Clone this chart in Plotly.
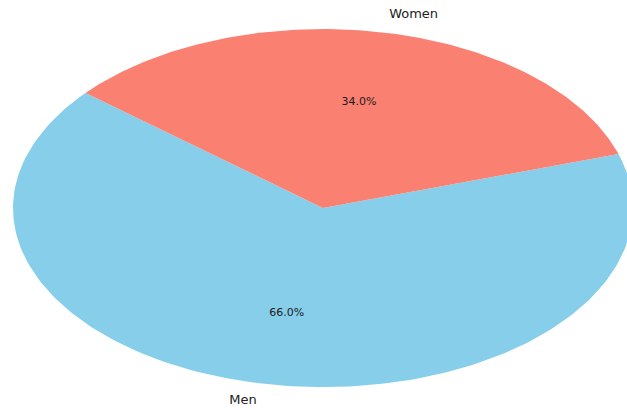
import numpy as np
import plotly.graph_objects as go

labels = ["Men", "Women"]
sizes = [66, 34]
colors = ["#87CEEB", "#FA8072"]
start_angle = 140  # degrees, counterclockwise like matplotlib

fig = go.Figure()
total = sum(sizes)
theta0 = start_angle
lab_x, lab_y, lab_t, lab_pos = [], [], [], []
pct_x, pct_y, pct_t = [], [], []
for lab, val, col in zip(labels, sizes, colors):
    span = 360.0 * val / total
    th = np.radians(np.linspace(theta0, theta0 + span, 200))
    xs = np.concatenate([[0], np.cos(th), [0]])
    ys = np.concatenate([[0], np.sin(th), [0]])
    fig.add_trace(go.Scatter(x=xs, y=ys, fill="toself", fillcolor=col,
                             mode="lines", line=dict(width=0, color=col),
                             hoverinfo="skip", showlegend=False))
    mid = np.radians(theta0 + span / 2)
    lx, ly = 1.1 * np.cos(mid), 1.1 * np.sin(mid)
    lab_x.append(lx); lab_y.append(ly); lab_t.append(lab)
    lab_pos.append("middle right" if lx > 0 else "middle left")
    pct_x.append(0.6 * np.cos(mid)); pct_y.append(0.6 * np.sin(mid))
    pct_t.append(f"{100.0 * val / total:.1f}%")
    theta0 += span

fig.add_trace(go.Scatter(x=lab_x, y=lab_y, mode="text", text=lab_t,
                         textposition=lab_pos,
                         textfont=dict(family="DejaVu Sans", size=13, color="#222"),
                         hoverinfo="skip", showlegend=False))
fig.add_trace(go.Scatter(x=pct_x, y=pct_y, mode="text", text=pct_t,
                         textposition="middle center",
                         textfont=dict(family="DejaVu Sans", size=11, color="#1a1a1a"),
                         hoverinfo="skip", showlegend=False))

fig.update_layout(
    width=627, height=410,
    margin=dict(l=0, r=0, t=0, b=0),
    paper_bgcolor="white", plot_bgcolor="white",
    xaxis=dict(range=[-1.042, 0.981], visible=False, fixedrange=True),
    yaxis=dict(range=[-1.128, 1.162], visible=False, fixedrange=True),
)
fig.write_html("out.html", config={"displayModeBar": False},
               post_script="document.body.style.margin='0';document.body.style.overflow='hidden';")
